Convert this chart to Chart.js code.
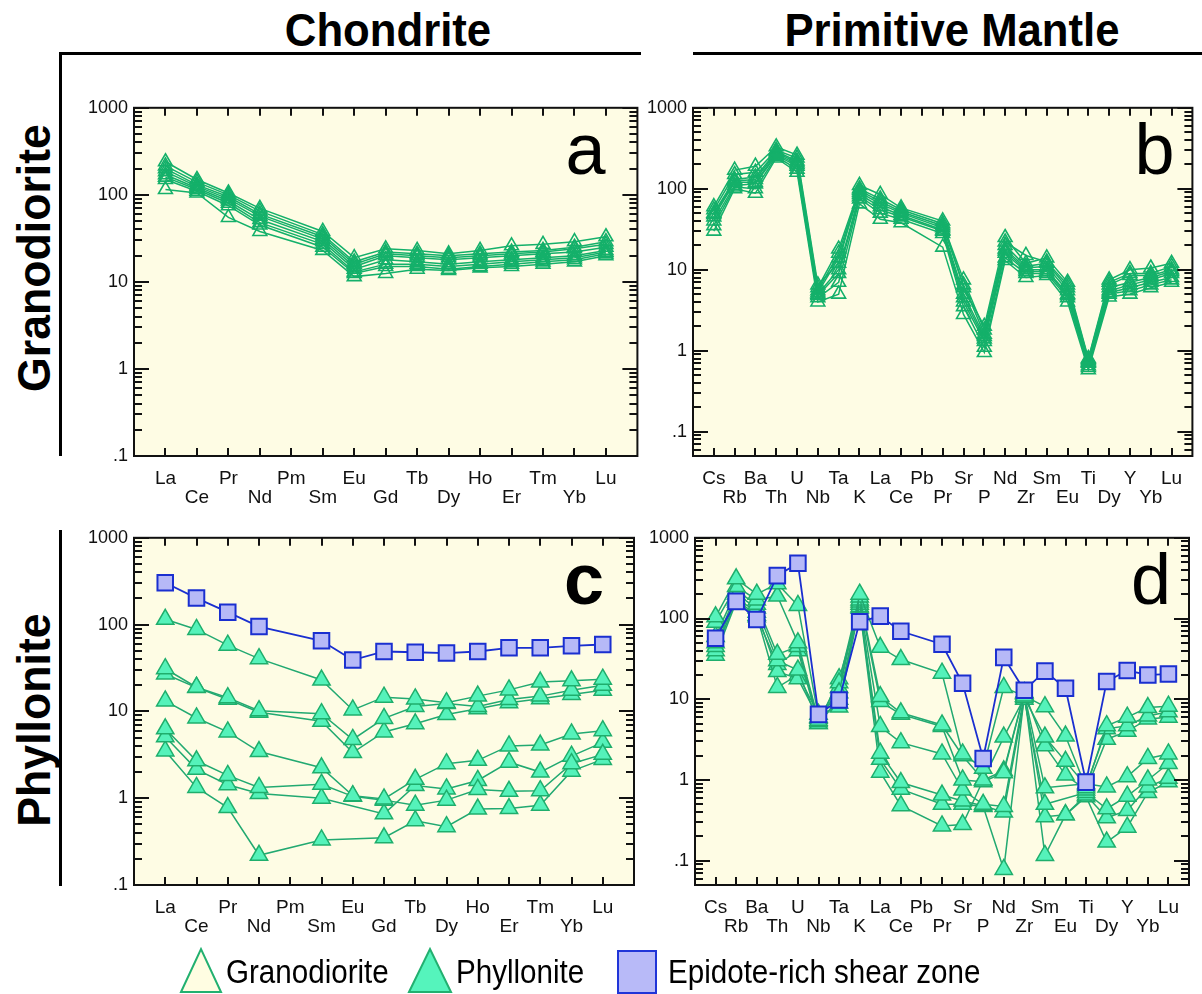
<!DOCTYPE html>
<html>
<head>
<meta charset="utf-8">
<script src="https://cdn.jsdelivr.net/npm/chart.js@4.4.1/dist/chart.umd.min.js"></script>
<style>
  html, body { margin: 0; padding: 0; background: #fff; }
  body { width: 1202px; height: 994px; position: relative; overflow: hidden;
         font-family: "Liberation Sans", Arial, sans-serif; color: #000; }
  canvas { position: absolute; }
  .title { position: absolute; font-weight: bold; font-size: 46px; white-space: nowrap;
           transform: translate(-50%, -50%) scaleX(0.95); }
  .rowlabel { position: absolute; font-weight: bold; font-size: 47px; white-space: nowrap;
              transform: translate(-50%, -50%) rotate(-90deg) scaleX(0.95); }
  .rule { position: absolute; background: #000; }
  .legtext { position: absolute; font-size: 34px; white-space: nowrap; line-height: 1;
             transform-origin: left center; transform: scaleX(0.87); }
</style>
</head>
<body>

<div class="title" style="left:388px; top:30px;">Chondrite</div>
<div class="title" style="left:952px; top:30px;">Primitive Mantle</div>
<div class="rule" style="left:59px; top:52px; width:582px; height:3px;"></div>
<div class="rule" style="left:59px; top:52px; width:3px; height:404px;"></div>
<div class="rule" style="left:693px; top:52px; width:509px; height:3px;"></div>
<div class="rule" style="left:59px; top:530px; width:3px; height:356px;"></div>
<div class="rowlabel" style="left:33px; top:258px;">Granodiorite</div>
<div class="rowlabel" style="left:33px; top:720px;">Phyllonite</div>

<canvas id="panelA"></canvas>
<canvas id="panelB"></canvas>
<canvas id="panelC"></canvas>
<canvas id="panelD"></canvas>

<svg width="1202" height="994" style="position:absolute; left:0; top:0; pointer-events:none;">
  <polygon points="181,992 201,949 221,992" fill="#FFFDE2" stroke="#22B070" stroke-width="2"/>
  <polygon points="409,992 430,949 451,992" fill="#55F4BC" stroke="#22B070" stroke-width="2"/>
  <rect x="618" y="951" width="38" height="42" fill="#B8BAF8" stroke="#2035D8" stroke-width="2"/>
</svg>
<div class="legtext" style="left:226px; top:954px;">Granodiorite</div>
<div class="legtext" style="left:456px; top:954px;">Phyllonite</div>
<div class="legtext" style="left:668px; top:954px;">Epidote-rich shear zone</div>

<script>
// element orders
const reeElements = ['La', 'Ce', 'Pr', 'Nd', 'Pm', 'Sm', 'Eu', 'Gd', 'Tb', 'Dy', 'Ho', 'Er', 'Tm', 'Yb', 'Lu'];
const spiderElements = ['Cs', 'Rb', 'Ba', 'Th', 'U', 'Nb', 'Ta', 'K', 'La', 'Ce', 'Pb', 'Pr', 'Sr', 'P',
                        'Nd', 'Zr', 'Sm', 'Eu', 'Ti', 'Dy', 'Y', 'Yb', 'Lu'];
const yTickValues = [0.1, 1, 10, 100, 1000];

// chondrite-normalised REE, granodiorite
const granodioriteRee = [
    [240, 150, 105, 70, null, 38, 19, 24, 23, 21, 23, 26, 27, 29, 33],
    [215, 140, 100, 65, null, 35, 17, 22, 21, 20, 21, 22, 23, 25, 29],
    [200, 130, 95, 60, null, 33, 16, 21, 20, 19, 20, 21, 22, 24, 27],
    [185, 125, 90, 57, null, 31, 15, 20, 19, 18, 19, 20, 21, 22, 25],
    [170, 120, 85, 52, null, 29, 14, 18, 17, 16, 17, 18, 19, 20, 23],
    [160, 115, 80, 48, null, 27, 13, 16, 16, 15, 16, 17, 18, 19, 22],
    [150, 110, 75, 45, null, 25, 12.5, 15, 15, 14, 15, 16, 17, 18, 21],
    [115, 105, 55, 38, null, 23, 11.5, 12.5, 14, 13.5, 14.5, 15, 16, 17, 20]
];

// primitive-mantle-normalised, granodiorite
const granodioriteSpider = [
    [60, 170, 190, 330, 260, 6.5, 12, 110, 85, 58, null, 40, 6, 2, 25, 12, 14, 7, 0.8, 7.5, 10, 10.5, 12],
    [55, 150, 160, 300, 240, 6, 18, 100, 75, 55, null, 37, 7.5, 1.8, 22, 15, 12.5, 6.5, 0.78, 7, 9, 9, 11],
    [50, 130, 140, 290, 220, 5.5, 16, 95, 70, 52, null, 35, 6.5, 1.6, 20, 11, 12, 6, 0.75, 6.5, 8.5, 8.5, 10],
    [48, 125, 130, 280, 210, 5.2, 14, 90, 65, 50, null, 33, 5, 1.5, 18, 10.5, 11, 5.5, 0.72, 6, 7, 8, 9.5],
    [45, 120, 120, 270, 200, 5, 10, 85, 60, 47, null, 31, 4.5, 1.4, 17, 10, 10, 5, 0.7, 5.5, 6.5, 7.5, 9],
    [40, 110, 115, 260, 190, 4.8, 9, 80, 55, 45, null, 30, 4, 1.3, 16, 9.5, 9.5, 4.8, 0.65, 5.2, 6, 7, 8],
    [35, 105, 100, 250, 175, 4.5, 7, 75, 50, 42, null, 28, 3.5, 1.1, 14, 9, 9, 4.5, 0.62, 5, 5.5, 6.5, 7.5],
    [30, 100, 88, 240, 160, 4, 5, 65, 42, 38, null, 19, 2.8, 0.95, 13, 8, 8.5, 4, 0.58, 4.6, 5, 6, 7]
];

// chondrite-normalised REE, phyllonite and epidote-rich shear zone
const phylloniteRee = [
    [115, 88, 58, 40.5, null, 23, 10.4, 14.6, 13.9, 12.6, 15, 17.7, 21.8, 22.5, 23.5],
    [31, 19, 14.4, 10.2, null, 9.4, 4.75, 8.3, 11.4, 12.3, 11.4, 13.7, 15, 17.5, 20],
    [27, 18.8, 13.8, 9.8, null, 7.7, 3.36, 5.8, 7.2, 9.2, 10.7, 12.6, 14, 15.7, 17.5],
    [13.2, 8.4, 5.8, 3.45, null, 2.24, 1.07, 0.98, 1.65, 2.5, 2.73, 4.0, 4.1, 5.5, 6.0],
    [6.3, 2.7, 1.83, 1.33, null, 1.45, 1.05, 0.95, 0.83, 0.95, 1.26, 1.2, 1.22, 2.5, 3.2],
    [5.1, 2.15, 1.43, 1.13, null, 1.0, null, 0.66, 1.4, 1.28, 1.6, 2.6, 2.0, 3.05, 4.4],
    [3.5, 1.33, 0.78, 0.22, null, 0.33, null, 0.35, 0.55, 0.47, 0.75, 0.76, 0.83, 2.05, 2.8]
];
const epidoteRee = [303, 202, 139, 95, null, 65, 39, 49, 48, 47, 49, 54, 54, 57, 59];

// primitive-mantle-normalised, phyllonite and epidote-rich shear zone
const phylloniteSpider = [
    [105, 310, 200, 270, 145, 6, 12, 200, 44, 31, null, 21, 2.1, 1.4, 14, 11, 8.1, 3.5, 0.8, 4.7, 6, 7.9, 8.2],
    [90, 250, 170, 190, 50, 5.5, 16, 185, 10.8, 6.8, null, 4.8, 2.0, 1.0, 3.4, 10.5, 3.4, 1.7, 0.85, 4.3, 4.7, 6.2, 7],
    [60, 220, 150, 36, 45, 5.3, 14, 170, 9.4, 6.5, null, 4.6, 1.0, 0.95, 1.23, 12, 2.65, 1.15, 0.75, 3.2, 4, 5.7, 6],
    [50, 200, 135, 30, 23, 5, 10, 160, 4.6, 2.9, null, 2.1, 0.75, 0.5, 0.47, 11.5, 0.8, null, 0.9, 0.82, 1.1, 1.85, 2.1],
    [45, 180, 120, 22, 18, 5.8, 9, 150, 2.15, 0.93, null, 0.65, 0.55, 0.48, 0.4, 10, 0.5, null, 0.7, 0.44, 0.63, 1.0, 1.6],
    [40, 170, 110, 14, 20, 6.5, 8, 140, 1.8, 0.77, null, 0.5, 0.5, 0.47, 0.078, 11, 0.35, 0.37, 0.65, 0.34, 0.42, 0.82, 1.05],
    [35, 160, 105, 27, 40, 5, 18, 135, 1.25, 0.48, null, 0.27, 0.28, 1.0, 1.3, 12, 0.116, 0.37, 0.62, 0.17, 0.26, 0.7, 0.95]
];
const epidoteSpider = [57, 163, 97, 340, 483, 6.5, 9.8, 91, 107, 69.5, null, 48, 15.8, 1.85, 33, 12.9, 22.3, 13.7, 0.94, 16.6, 22.7, 20, 20.5];

const PLOT_BG = '#FEFCE4';
const GREEN = '#14B06A';
const Y_AXIS_W = 60, X_AXIS_H = 52, PAD_TOP = 12;

Chart.defaults.font.family = '"Liberation Sans", Arial, sans-serif';
Chart.defaults.color = '#111';

function toPoints(values) {
    return values.map((v, i) => ({ x: i, y: v }));
}

function granoSet(values) {
    return {
        data: toPoints(values), borderColor: GREEN, borderWidth: 1.5,
        pointStyle: 'triangle', pointRadius: 8, pointBorderWidth: 1.6,
        pointBorderColor: GREEN, pointBackgroundColor: 'rgba(0,0,0,0)'
    };
}

function phylloSet(values) {
    return {
        data: toPoints(values), borderColor: '#22A971', borderWidth: 1.5,
        pointStyle: 'triangle', pointRadius: 10, pointBorderWidth: 1.5,
        pointBorderColor: '#1FAE6C', pointBackgroundColor: '#55F2BA'
    };
}

function epidoteSet(values) {
    return {
        data: toPoints(values), borderColor: '#1A2FD0', borderWidth: 1.8,
        pointStyle: 'rect', pointRadius: 11, pointBorderWidth: 2,
        pointBorderColor: '#1A2FD0', pointBackgroundColor: '#B6B9F7'
    };
}

// plot background, frame, inward ticks and the panel letter
const framePlugin = {
    id: 'frame',
    beforeDraw(chart) {
        const { ctx, chartArea: a } = chart;
        ctx.save();
        ctx.fillStyle = PLOT_BG;
        ctx.fillRect(a.left, a.top, a.right - a.left, a.bottom - a.top);
        ctx.restore();
    },
    afterDraw(chart, args, opts) {
        const { ctx, chartArea: a, scales: { x, y } } = chart;
        ctx.save();
        ctx.strokeStyle = '#111';
        ctx.lineWidth = 2;
        ctx.beginPath();
        const lo = Math.floor(Math.log10(y.min)), hi = Math.ceil(Math.log10(y.max));
        for (let e = lo; e <= hi; e++) {
            for (let m = 1; m < 10; m++) {
                const v = m * Math.pow(10, e);
                if (v < y.min * 0.999 || v > y.max * 1.001) continue;
                const py = Math.round(y.getPixelForValue(v));
                const len = m === 1 ? 15 : 8;
                ctx.moveTo(a.left, py); ctx.lineTo(a.left + len, py);
                ctx.moveTo(a.right, py); ctx.lineTo(a.right - len, py);
            }
        }
        for (let i = 0; i < opts.count; i++) {
            const px = Math.round(x.getPixelForValue(i));
            ctx.moveTo(px, a.top); ctx.lineTo(px, a.top + 8);
            ctx.moveTo(px, a.bottom); ctx.lineTo(px, a.bottom - 8);
        }
        ctx.stroke();
        ctx.strokeRect(a.left, a.top, a.right - a.left, a.bottom - a.top);

        ctx.fillStyle = '#000';
        ctx.font = (opts.bold ? 'bold ' : '') + '72px "Liberation Sans", Arial, sans-serif';
        ctx.textAlign = 'center';
        ctx.textBaseline = 'alphabetic';
        ctx.fillText(opts.letter, a.right - opts.letterDx, a.top + opts.letterDy);
        ctx.restore();
    }
};

function makePanel(id, box, elements, datasets, yMin, letter, letterDx, bold) {
    const padRight = box.padRight;
    const canvas = document.getElementById(id);
    const w = box.right + padRight - (box.left - Y_AXIS_W);
    const h = box.bottom + X_AXIS_H - (box.top - PAD_TOP);
    canvas.width = w;
    canvas.height = h;
    canvas.style.left = (box.left - Y_AXIS_W) + 'px';
    canvas.style.top = (box.top - PAD_TOP) + 'px';

    return new Chart(canvas.getContext('2d'), {
        type: 'line',
        data: { datasets: datasets },
        plugins: [framePlugin],
        options: {
            responsive: false,
            animation: false,
            devicePixelRatio: 1,
            events: [],
            spanGaps: true,
            layout: { padding: { left: 0, right: padRight, top: PAD_TOP, bottom: 0 } },
            elements: { line: { tension: 0, fill: false } },
            plugins: {
                legend: { display: false },
                tooltip: { enabled: false },
                frame: { count: elements.length, letter: letter, letterDx: letterDx, letterDy: 66, bold: bold }
            },
            scales: {
                x: {
                    type: 'linear',
                    min: -1,
                    max: elements.length,
                    grid: { display: false, drawTicks: false },
                    border: { display: false },
                    afterBuildTicks: s => { s.ticks = elements.map((_, i) => ({ value: i })); },
                    afterFit: s => { s.height = X_AXIS_H; },
                    ticks: {
                        autoSkip: false, maxRotation: 0, minRotation: 0, padding: 13,
                        font: { size: 19, lineHeight: 1.0 },
                        callback: v => (v % 2 ? ['', elements[v]] : elements[v])
                    }
                },
                y: {
                    type: 'logarithmic',
                    min: yMin,
                    max: 1000,
                    grid: { display: false, drawTicks: false },
                    border: { display: false },
                    afterBuildTicks: s => { s.ticks = yTickValues.filter(v => v >= yMin).map(v => ({ value: v })); },
                    afterFit: s => { s.width = Y_AXIS_W; },
                    ticks: {
                        padding: 6,
                        font: { size: 18 },
                        callback: v => (v < 1 ? '.1' : String(v))
                    }
                }
            }
        }
    });
}

makePanel('panelA', { left: 134, top: 103, right: 643, bottom: 456, padRight: 4 },
    reeElements, granodioriteRee.map(granoSet), 0.1, 'a', 52, false);

makePanel('panelB', { left: 693, top: 103, right: 1200, bottom: 456, padRight: 2 },
    spiderElements, granodioriteSpider.map(granoSet), 0.05, 'b', 38, false);

makePanel('panelC', { left: 134, top: 533, right: 643, bottom: 885, padRight: 4 },
    reeElements, [epidoteSet(epidoteRee)].concat(phylloniteRee.map(phylloSet)), 0.1, 'c', 50, true);

makePanel('panelD', { left: 695, top: 533, right: 1200, bottom: 885, padRight: 2 },
    spiderElements, [epidoteSet(epidoteSpider)].concat(phylloniteSpider.map(phylloSet)), 0.05, 'd', 38, false);
</script>
</body>
</html>
